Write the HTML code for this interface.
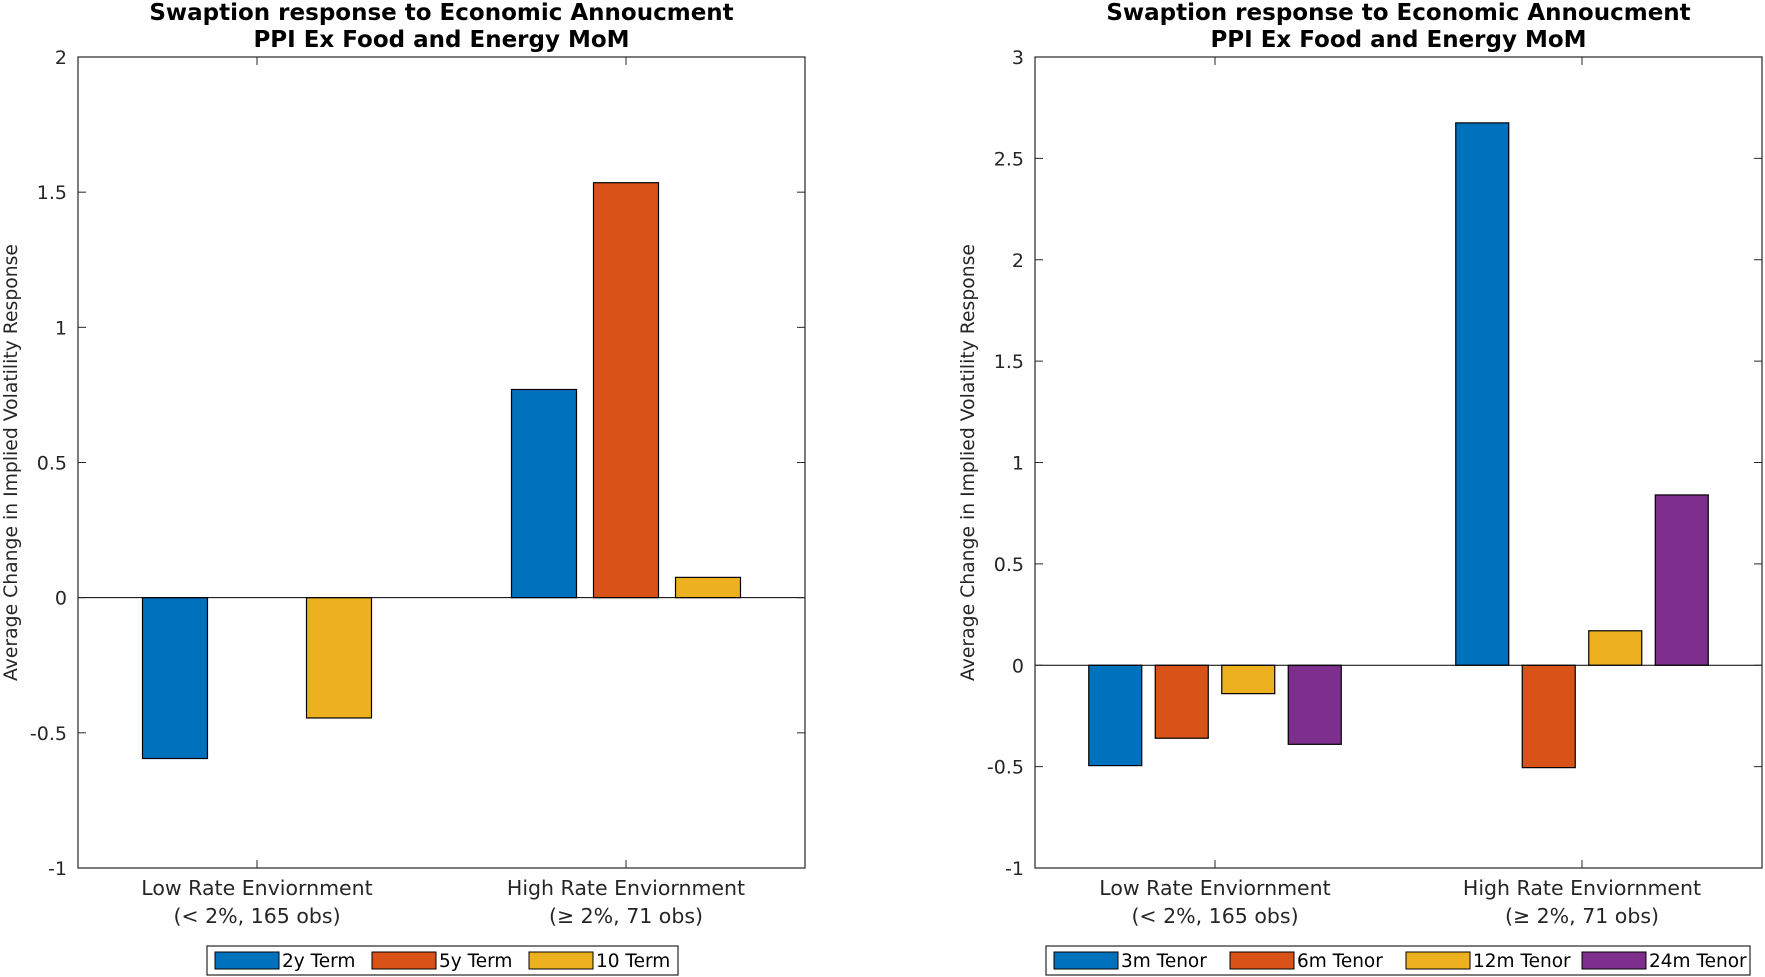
<!DOCTYPE html>
<html><head><meta charset="utf-8"><style>
body{margin:0;background:#fff;}
svg{display:block;font-family:"DejaVu Sans","Liberation Sans",sans-serif;}
</style></head><body>
<svg id="c" width="1765" height="977" xmlns="http://www.w3.org/2000/svg"></svg>
<script>
const categories = ["Low Rate Enviornment", "High Rate Enviornment"];
const catSub = ["(< 2%, 165 obs)", "(\u2265 2%, 71 obs)"];
const leftSeries = ["2y Term", "5y Term", "10 Term"];
const leftValues = [[-0.595, 0.0, -0.445], [0.77, 1.535, 0.075]];
const leftTicks = [-1, -0.5, 0, 0.5, 1, 1.5, 2];
const rightSeries = ["3m Tenor", "6m Tenor", "12m Tenor", "24m Tenor"];
const rightValues = [[-0.495, -0.36, -0.14, -0.39], [2.675, -0.505, 0.17, 0.84]];
const rightTicks = [-1, -0.5, 0, 0.5, 1, 1.5, 2, 2.5, 3];
const colors = ["#0072BD", "#D95319", "#EDB120", "#7E2F8E"];

const svg = document.getElementById('c');
const NS = "http://www.w3.org/2000/svg";
function mk(tag, attrs, parent, txt) {
  const e = document.createElementNS(NS, tag);
  for (const k in attrs) e.setAttribute(k, attrs[k]);
  if (txt !== undefined) e.textContent = txt;
  (parent || svg).appendChild(e);
  return e;
}

function panel(p) {
  const g = mk('g', {});
  
  
  const x0 = p.x0, x1 = p.x1, yT = 57, yB = 868;
  const ymin = p.ticks[0], ymax = p.ticks[p.ticks.length - 1];
  const ys = v => yB - (v - ymin) / (ymax - ymin) * (yB - yT);
  const xs = i => p.cx[i];
  let t = mk('text', {x: (x0 + x1) / 2, y: 20, 'text-anchor': 'middle', 'font-size': 23, 'font-weight': 'bold'}, g, "Swaption response to Economic Annoucment");
  
  
  t = mk('text', {x: (x0 + x1) / 2, y: 47, 'text-anchor': 'middle', 'font-size': 23, 'font-weight': 'bold'}, g, "PPI Ex Food and Energy MoM");
  
  
  const n = p.series.length;
  p.values.forEach((grp, ci) => {
    grp.forEach((v, si) => {
      const cx = xs(ci) + (si - (n - 1) / 2) * p.step;
      const y0 = ys(0), y1 = ys(v);
      const r = mk('rect', {x: cx - p.bw / 2, y: Math.min(y0, y1), width: p.bw, height: Math.abs(y1 - y0), fill: colors[si], stroke: '#000', 'stroke-width': 1.2}, g);
      
      
    });
  });
  mk('line', {x1: x0, x2: x1, y1: ys(0), y2: ys(0), stroke: '#000', 'stroke-width': 1}, g);
  const box = mk('rect', {x: x0, y: yT, width: x1 - x0, height: yB - yT, fill: 'none', stroke: '#262626', 'stroke-width': 1.2}, g);
  
  
  p.ticks.forEach(v => {
    const y = ys(v);
    mk('line', {x1: x0, x2: x0 + 8, y1: y, y2: y, stroke: '#262626'}, g);
    mk('line', {x1: x1, x2: x1 - 8, y1: y, y2: y, stroke: '#262626'}, g);
    const tl = mk('text', {x: x0 - 11, y: y + 7, 'text-anchor': 'end', 'font-size': 19, fill: '#262626'}, g, String(v));
    
    
  });
  categories.forEach((c, i) => {
    const x = xs(i);
    mk('line', {x1: x, x2: x, y1: yB, y2: yB - 8, stroke: '#262626'}, g);
    mk('line', {x1: x, x2: x, y1: yT, y2: yT + 8, stroke: '#262626'}, g);
    let l = mk('text', {x: x, y: 895, 'text-anchor': 'middle', 'font-size': 20.5, fill: '#262626'}, g, c);
    
    
    l = mk('text', {x: x, y: 923, 'text-anchor': 'middle', 'font-size': 20.5, fill: '#262626'}, g, catSub[i]);
    
    
  });
  const yl = mk('text', {x: 0, y: 0, transform: `translate(${p.ylx},${(yT + yB) / 2}) rotate(-90)`, 'text-anchor': 'middle', 'font-size': 18.8, fill: '#262626'}, g, "Average Change in Implied Volatility Response");
  
  
  const lg = mk('g', {}, g);
  
  
  mk('rect', {x: p.lx0, y: 946, width: p.lx1 - p.lx0, height: 29, fill: '#fff', stroke: '#262626', 'stroke-width': 1.2}, lg);
  const w = (p.lx1 - p.lx0) / n;
  p.series.forEach((s, i) => {
    const bx = p.lx0 + i * w + 8;
    const e = mk('g', {}, lg);
    
    
    mk('rect', {x: bx, y: 952, width: 64, height: 17, fill: colors[i], stroke: '#000', 'stroke-width': 1}, e);
    mk('text', {x: bx + 67, y: 967, 'font-size': 18.5, fill: '#000'}, e, s);
  });
}

panel({name: 'left-panel', x0: 78, x1: 805, ticks: leftTicks, series: leftSeries, values: leftValues,
  cx: [257, 626], bw: 65, step: 82, ylx: 17, lx0: 207, lx1: 678});
panel({name: 'right-panel', x0: 1035, x1: 1762, ticks: rightTicks, series: rightSeries, values: rightValues,
  cx: [1215, 1582], bw: 53, step: 66.5, ylx: 974, lx0: 1046, lx1: 1750});
</script>
</body></html>
